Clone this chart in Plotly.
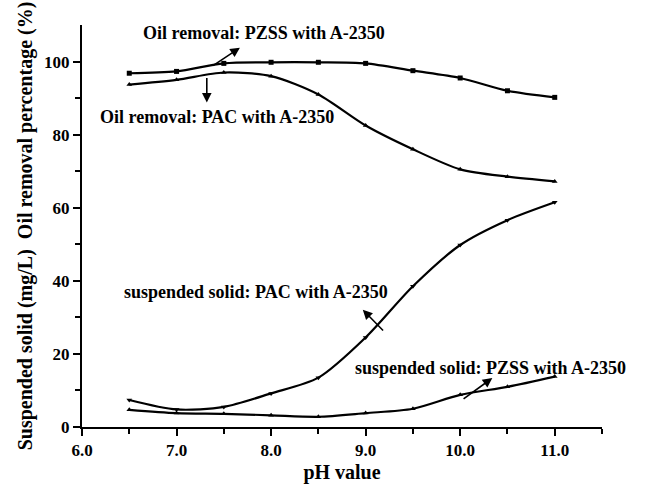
import plotly.graph_objects as go

ph = [6.5, 7.0, 7.5, 8.0, 8.5, 9.0, 9.5, 10.0, 10.5, 11.0]
oil_pzss = [96.8, 97.3, 99.5, 99.8, 99.8, 99.5, 97.5, 95.5, 92.0, 90.2]
oil_pac = [93.7, 95.0, 97.0, 96.0, 91.0, 82.5, 76.0, 70.5, 68.5, 67.2]
ss_pac = [7.4, 4.8, 5.5, 9.2, 13.5, 24.5, 38.5, 49.8, 56.6, 61.5]
ss_pzss = [4.7, 3.8, 3.6, 3.2, 2.8, 3.8, 5.0, 8.8, 11.0, 13.8]

FONT = "Liberation Serif"
fig = go.Figure()

series = [
    (oil_pzss, "square"),
    (oil_pac, "triangle-up"),
    (ss_pac, "triangle-down"),
    (ss_pzss, "triangle-up"),
]
for vals, sym in series:
    fig.add_trace(go.Scatter(
        x=ph, y=vals, mode="lines+markers",
        line=dict(color="black", width=2.2, shape="spline", smoothing=0.8),
        marker=dict(symbol=sym, size=5, color="black"),
        showlegend=False,
    ))

labels = [
    ("<b>Oil removal: PZSS with A-2350</b>", 7.93, 107.9, 7.67, 103.8, 7.37, 98.6),
    ("<b>Oil removal: PAC with A-2350</b>", 7.43, 84.9, 7.32, 88.8, 7.32, 95.9),
    ("<b>suspended solid: PAC with A-2350</b>", 7.84, 37.0, 8.97, 32.1, 9.20, 26.0),
    ("<b>suspended solid: PZSS with A-2350</b>", 10.32, 16.2, 10.34, 13.4, 10.02, 7.4),
]
for txt, tx, ty, hx, hy, sx, sy in labels:
    fig.add_annotation(x=tx, y=ty, text=txt, showarrow=False,
                       font=dict(family=FONT, size=18, color="black"))
    fig.add_annotation(x=hx, y=hy, ax=sx, ay=sy, xref="x", yref="y",
                       axref="x", ayref="y", text="", showarrow=True,
                       arrowhead=2, arrowsize=1.2, arrowwidth=1.6,
                       arrowcolor="black")

fig.update_layout(
    width=645, height=494,
    margin=dict(l=82, r=43, t=25, b=67),
    plot_bgcolor="white", paper_bgcolor="white",
    font=dict(family=FONT, size=17, color="black"),
)
fig.update_xaxes(
    range=[6.0, 11.5], tickvals=[6, 7, 8, 9, 10, 11],
    ticktext=["<b>6.0</b>", "<b>7.0</b>", "<b>8.0</b>", "<b>9.0</b>", "<b>10.0</b>", "<b>11.0</b>"],
    showline=True, linecolor="black", linewidth=2,
    ticks="outside", ticklen=7, tickwidth=2, tickcolor="black",
    minor=dict(tickvals=[6.5, 7.5, 8.5, 9.5, 10.5, 11.5], ticks="outside", ticklen=5, tickwidth=2, tickcolor="black"),
    showgrid=False, zeroline=False,
    title=dict(text="<b>pH value</b>", font=dict(family=FONT, size=20), standoff=6),
)
fig.update_yaxes(
    range=[0, 110], tickvals=[0, 20, 40, 60, 80, 100],
    ticktext=["<b>0</b>", "<b>20</b>", "<b>40</b>", "<b>60</b>", "<b>80</b>", "<b>100</b>"],
    showline=True, linecolor="black", linewidth=2,
    ticks="outside", ticklen=7, tickwidth=2, tickcolor="black",
    minor=dict(tickvals=[10, 30, 50, 70, 90], ticks="outside", ticklen=5, tickwidth=2, tickcolor="black"),
    showgrid=False, zeroline=False,
    title=dict(text="<b>Suspended solid (mg/L)  Oil removal percentage (%)</b>",
               font=dict(family=FONT, size=20), standoff=6),
)

fig.write_html("out.html")
